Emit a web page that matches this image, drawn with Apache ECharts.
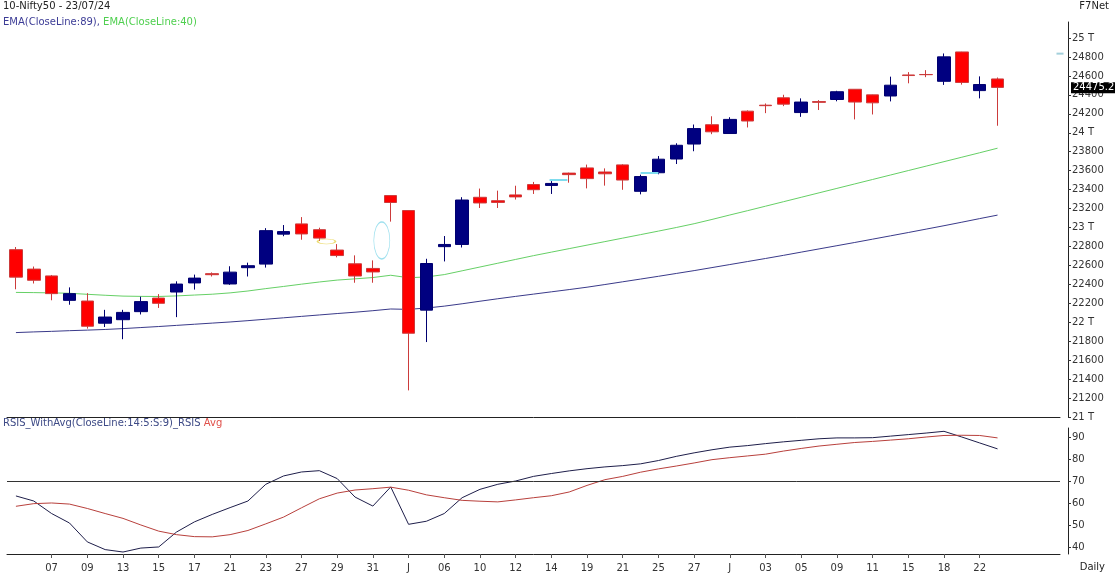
<!DOCTYPE html>
<html>
<head>
<meta charset="utf-8">
<script src="https://cdn.jsdelivr.net/npm/echarts@6/dist/echarts.min.js"></script>
<style>
html,body{margin:0;padding:0;background:#fff;}
#chart{width:1115px;height:577px;}
</style>
</head>
<body>
<div id="chart"></div>
<script>
// ---------------- DATA ----------------
const dates = ['2024-05-03','2024-05-06','2024-05-07','2024-05-08','2024-05-09','2024-05-10','2024-05-13','2024-05-14','2024-05-15','2024-05-16',
'2024-05-17','2024-05-18','2024-05-21','2024-05-22','2024-05-23','2024-05-24','2024-05-27','2024-05-28','2024-05-29','2024-05-30',
'2024-05-31','2024-06-03','2024-06-04','2024-06-05','2024-06-06','2024-06-07','2024-06-10','2024-06-11','2024-06-12','2024-06-13',
'2024-06-14','2024-06-18','2024-06-19','2024-06-20','2024-06-21','2024-06-24','2024-06-25','2024-06-26','2024-06-27','2024-06-28',
'2024-07-01','2024-07-02','2024-07-03','2024-07-04','2024-07-05','2024-07-08','2024-07-09','2024-07-10','2024-07-11','2024-07-12',
'2024-07-15','2024-07-16','2024-07-18','2024-07-19','2024-07-22','2024-07-23'];

const openP  = [22766,22561,22489,22231,22224,21990,22027,22112,22255,22319,22415,22513,22404,22576,22614,22930,23038,22977,22762,22617,
22568,23337,23179,22128,22798,22821,23319,23283,23344,23453,23444,23574,23629,23586,23661,23382,23578,23723,23881,24085,
23992,24228,24291,24369,24213,24329,24351,24459,24400,24388,24610,24615,24543,24853,24445,24568];
const highP  = [22794,22588,22499,22368,22307,22131,22131,22270,22297,22432,22503,22526,22591,22629,22993,23026,23110,22998,22825,22706,
22653,23338,23179,22670,22910,23320,23411,23389,23441,23481,23490,23579,23664,23624,23668,23558,23754,23889,24087,24174,
24164,24236,24309,24401,24363,24345,24443,24461,24402,24592,24640,24661,24837,24855,24595,24583];
const lowP   = [22348,22409,22232,22185,21933,21950,21821,22082,22151,22054,22345,22483,22395,22483,22577,22908,22871,22858,22685,22417,
22417,23062,21281,21791,22642,22789,23206,23206,23295,23354,23354,23473,23413,23442,23398,23350,23562,23670,23805,23985,
23992,24056,24207,24281,24168,24240,24332,24141,24193,24331,24522,24587,24505,24508,24363,24074];
const closeP = [22476,22443,22302,22302,21958,22055,22104,22218,22200,22403,22466,22502,22529,22597,22967,22957,22932,22888,22704,22488,
22531,23264,21884,22620,22821,23290,23259,23265,23323,23399,23465,23558,23516,23567,23501,23538,23721,23868,24044,24010,
24141,24124,24286,24302,24324,24321,24433,24324,24316,24502,24604,24613,24801,24531,24509,24479];

const ema89 = [21891,21898,21904,21911,21917,21924,21933,21944,21955,21967,21979,21991,22003,22017,22032,22047,22062,22077,22092,22106,
22122,22140,22136,22150,22170,22195,22222,22248,22273,22297,22321,22345,22370,22398,22427,22456,22485,22515,22545,22577,
22609,22641,22673,22706,22740,22774,22808,22842,22877,22912,22947,22983,23019,23056,23094,23131];
const ema40 = [22315,22313,22310,22306,22295,22285,22276,22273,22272,22278,22287,22296,22310,22330,22355,22378,22402,22425,22445,22458,
22472,22496,22470,22478,22503,22543,22583,22623,22663,22703,22740,22777,22814,22851,22888,22925,22962,23000,23040,23085,
23132,23178,23225,23272,23319,23366,23413,23460,23507,23554,23601,23648,23695,23742,23789,23837];

const rsi = [63.2,60.9,55.2,50.9,42.3,38.8,37.7,39.5,40.0,46.8,51.4,54.8,57.9,60.9,68.5,72.3,74.1,74.7,71.1,62.7,
58.6,67.3,50.3,51.7,55.2,62.4,66.2,68.5,70.0,72.1,73.4,74.6,75.6,76.4,77.0,77.8,79.3,81.2,82.8,84.2,
85.4,86.1,87.0,87.8,88.5,89.2,89.6,89.6,89.7,90.4,91.1,91.8,92.6,90.0,87.3,84.6];
const rsiAvg = [58.5,59.7,60.0,59.5,57.5,55.2,53.0,50.0,47.2,45.6,44.7,44.6,45.6,47.5,50.5,53.6,57.8,61.9,64.5,65.9,
66.5,67.2,65.8,63.7,62.4,61.2,60.8,60.5,61.4,62.4,63.3,65.0,68.0,70.6,72.1,74.0,75.5,76.8,78.2,79.7,
80.6,81.4,82.2,83.6,84.8,85.9,86.7,87.5,88.0,88.6,89.2,90.0,90.7,90.8,90.7,89.6];

const priceTicks = [21000,21200,21400,21600,21800,22000,22200,22400,22600,22800,23000,23200,23400,23600,23800,24000,24200,24400,24600,24800,25000];
const rsiTicks = [40,50,60,70,80,90];
const rsiLevel = 70;
const lastPrice = 24475.2;
const monthInitials = ['J','F','M','A','M','J','J','A','S','O','N','D'];

// annotations (positions in candle-index units / price)
const gapMarks = [ {from: 29.9, to: 30.9, value: 23502}, {from: 35.0, to: 36.0, value: 23573} ];
const yellowMark = {at: 17.4, value: 22853};
const cyanOval = {at: 20.5, value: 22864};
const sideMark = {at: 58.5, value: 24835};

// ---------------- BUILD ----------------
const padCount = 3;
const categories = dates.concat(new Array(padCount).fill(''));
const candleData = dates.map((d, i) => [openP[i], closeP[i], lowP[i], highP[i]]);
const FONT = 'DejaVu Sans';

function showLabel(idx) { return idx >= 2 && idx % 2 === 0 && idx < dates.length; }
function fmtDate(idx) {
  const d = dates[idx]; if (!d) return '';
  const m = +d.slice(5, 7), prev = dates[idx - 2];
  if (prev && +prev.slice(5, 7) !== m) return monthInitials[m - 1];
  return d.slice(8, 10);
}
function seg(s, color) {
  return [{coord: [s.from, s.value], lineStyle: {color: color, width: 2}}, {coord: [s.to, s.value]}];
}

const chart = echarts.init(document.getElementById('chart'), null, {renderer: 'canvas'});
chart.setOption({
  animation: false,
  backgroundColor: '#ffffff',
  textStyle: {fontFamily: FONT},
  title: [
    {left: 3, top: 1, padding: 0, text: '10-Nifty50 - 23/07/24',
     textStyle: {fontSize: 10, fontWeight: 'normal', color: '#222', fontFamily: FONT}},
    {left: 3, top: 17, padding: 0, text: '{a|EMA(CloseLine:89), }{b|EMA(CloseLine:40)}',
     textStyle: {fontSize: 10, fontWeight: 'normal', fontFamily: FONT,
       rich: {a: {color: '#3c3c96', fontSize: 10, fontFamily: FONT}, b: {color: '#4fcf4f', fontSize: 10, fontFamily: FONT}}}},
    {right: 6, top: 1, padding: 0, text: 'F7Net',
     textStyle: {fontSize: 10, fontWeight: 'normal', color: '#222', fontFamily: FONT}},
    {left: 3, top: 418, padding: 0, text: '{a|RSIS_WithAvg(CloseLine:14:5:S:9)_RSIS} {b|Avg}',
     textStyle: {fontSize: 10, fontWeight: 'normal', fontFamily: FONT,
       rich: {a: {color: '#3d4a86', fontSize: 10, fontFamily: FONT}, b: {color: '#e0504a', fontSize: 10, fontFamily: FONT}}}},
    {right: 10, top: 562, padding: 0, text: 'Daily',
     textStyle: {fontSize: 10, fontWeight: 'normal', color: '#222', fontFamily: FONT}}
  ],
  grid: [
    {left: 7, right: 55, top: 22, height: 395},
    {left: 7, right: 55, top: 428, height: 126}
  ],
  xAxis: [
    {type: 'category', gridIndex: 0, data: categories, boundaryGap: true,
     axisLine: {show: true, onZero: false, lineStyle: {color: '#222', width: 1}},
     axisTick: {show: false}, axisLabel: {show: false}, splitLine: {show: false}},
    {type: 'category', gridIndex: 1, data: categories, boundaryGap: true,
     axisLine: {show: true, onZero: false, lineStyle: {color: '#222', width: 1}},
     axisTick: {show: true, interval: (i) => showLabel(i), alignWithLabel: true, length: 4, lineStyle: {color: '#555'}},
     axisLabel: {show: true, interval: (i) => showLabel(i), formatter: (v, i) => fmtDate(i),
       fontSize: 10, color: '#333', margin: 9, fontFamily: FONT},
     splitLine: {show: false}},
    // hidden value axis sharing the candle-index scale, for annotations
    {type: 'value', gridIndex: 0, min: -0.5, max: categories.length - 0.5, show: false,
     axisLine: {onZero: false}}
  ],
  yAxis: [
    {type: 'value', gridIndex: 0, position: 'right', offset: 8, min: 21000, max: 25169, scale: true,
     axisLine: {show: true, onZero: false, lineStyle: {color: '#222', width: 1}},
     axisTick: {show: true, length: 3, customValues: priceTicks, lineStyle: {color: '#333'}},
     axisLabel: {show: true, customValues: priceTicks, fontSize: 10, color: '#333', margin: 4, fontFamily: FONT,
       formatter: (v) => (v % 1000 === 0 ? (v / 1000) + ' T' : String(v))},
     splitLine: {show: false}},
    {type: 'value', gridIndex: 1, position: 'right', offset: 8, min: 36.8, max: 94.1,
     axisLine: {show: true, onZero: false, lineStyle: {color: '#222', width: 1}},
     axisTick: {show: true, length: 3, customValues: rsiTicks, lineStyle: {color: '#333'}},
     axisLabel: {show: true, customValues: rsiTicks, fontSize: 10, color: '#333', margin: 4, fontFamily: FONT},
     splitLine: {show: false}}
  ],
  series: [
    {type: 'line', name: 'EMA89', xAxisIndex: 0, yAxisIndex: 0, data: ema89, symbol: 'none',
     lineStyle: {color: '#3a3a8a', width: 1}, z: 2},
    {type: 'line', name: 'EMA40', xAxisIndex: 0, yAxisIndex: 0, data: ema40, symbol: 'none',
     lineStyle: {color: '#66d066', width: 1}, z: 2},
    {type: 'candlestick', name: 'Nifty50', xAxisIndex: 0, yAxisIndex: 0, data: candleData,
     barWidth: 13, z: 3,
     itemStyle: {color: '#000080', color0: '#ff0000', borderColor: '#000070', borderColor0: '#cc3b3b', borderWidth: 1}},
    // annotation layer on hidden value x-axis
    {type: 'scatter', name: 'notes', xAxisIndex: 2, yAxisIndex: 0, clip: false, silent: true, z: 4,
     data: [
       {value: [yellowMark.at, yellowMark.value], symbol: 'circle', symbolSize: [18, 5],
        itemStyle: {color: 'rgba(0,0,0,0)', borderColor: '#e6d24a', borderWidth: 1}},
       {value: [cyanOval.at, cyanOval.value], symbol: 'circle', symbolSize: [16, 37],
        itemStyle: {color: 'rgba(0,0,0,0)', borderColor: '#86d8ea', borderWidth: 1}},
       {value: [sideMark.at, sideMark.value], symbol: 'rect', symbolSize: [7, 2],
        itemStyle: {color: '#8cc4d2'}}
     ],
     markLine: {
       silent: true, symbol: ['none', 'none'], animation: false, label: {show: false},
       lineStyle: {type: 'solid'},
       data: [
         seg(gapMarks[0], '#7fdcee'),
         seg(gapMarks[1], '#7fdcee'),
         {yAxis: lastPrice, lineStyle: {color: 'rgba(0,0,0,0)', width: 0},
          label: {show: true, position: 'end', distance: 11, formatter: String(lastPrice),
            backgroundColor: '#000', color: '#fff', fontSize: 10, padding: [1, 2, 0, 2], fontFamily: FONT}}
       ]
     }},
    {type: 'line', name: 'RSIS', xAxisIndex: 1, yAxisIndex: 1, data: rsi, symbol: 'none',
     lineStyle: {color: '#1e1e4a', width: 1},
     markLine: {silent: true, symbol: ['none', 'none'], label: {show: false},
       lineStyle: {color: '#333', width: 1, type: 'solid'}, data: [{yAxis: rsiLevel}]}},
    {type: 'line', name: 'Avg', xAxisIndex: 1, yAxisIndex: 1, data: rsiAvg, symbol: 'none',
     lineStyle: {color: '#b8403c', width: 1}}
  ]
});
</script>
</body>
</html>
